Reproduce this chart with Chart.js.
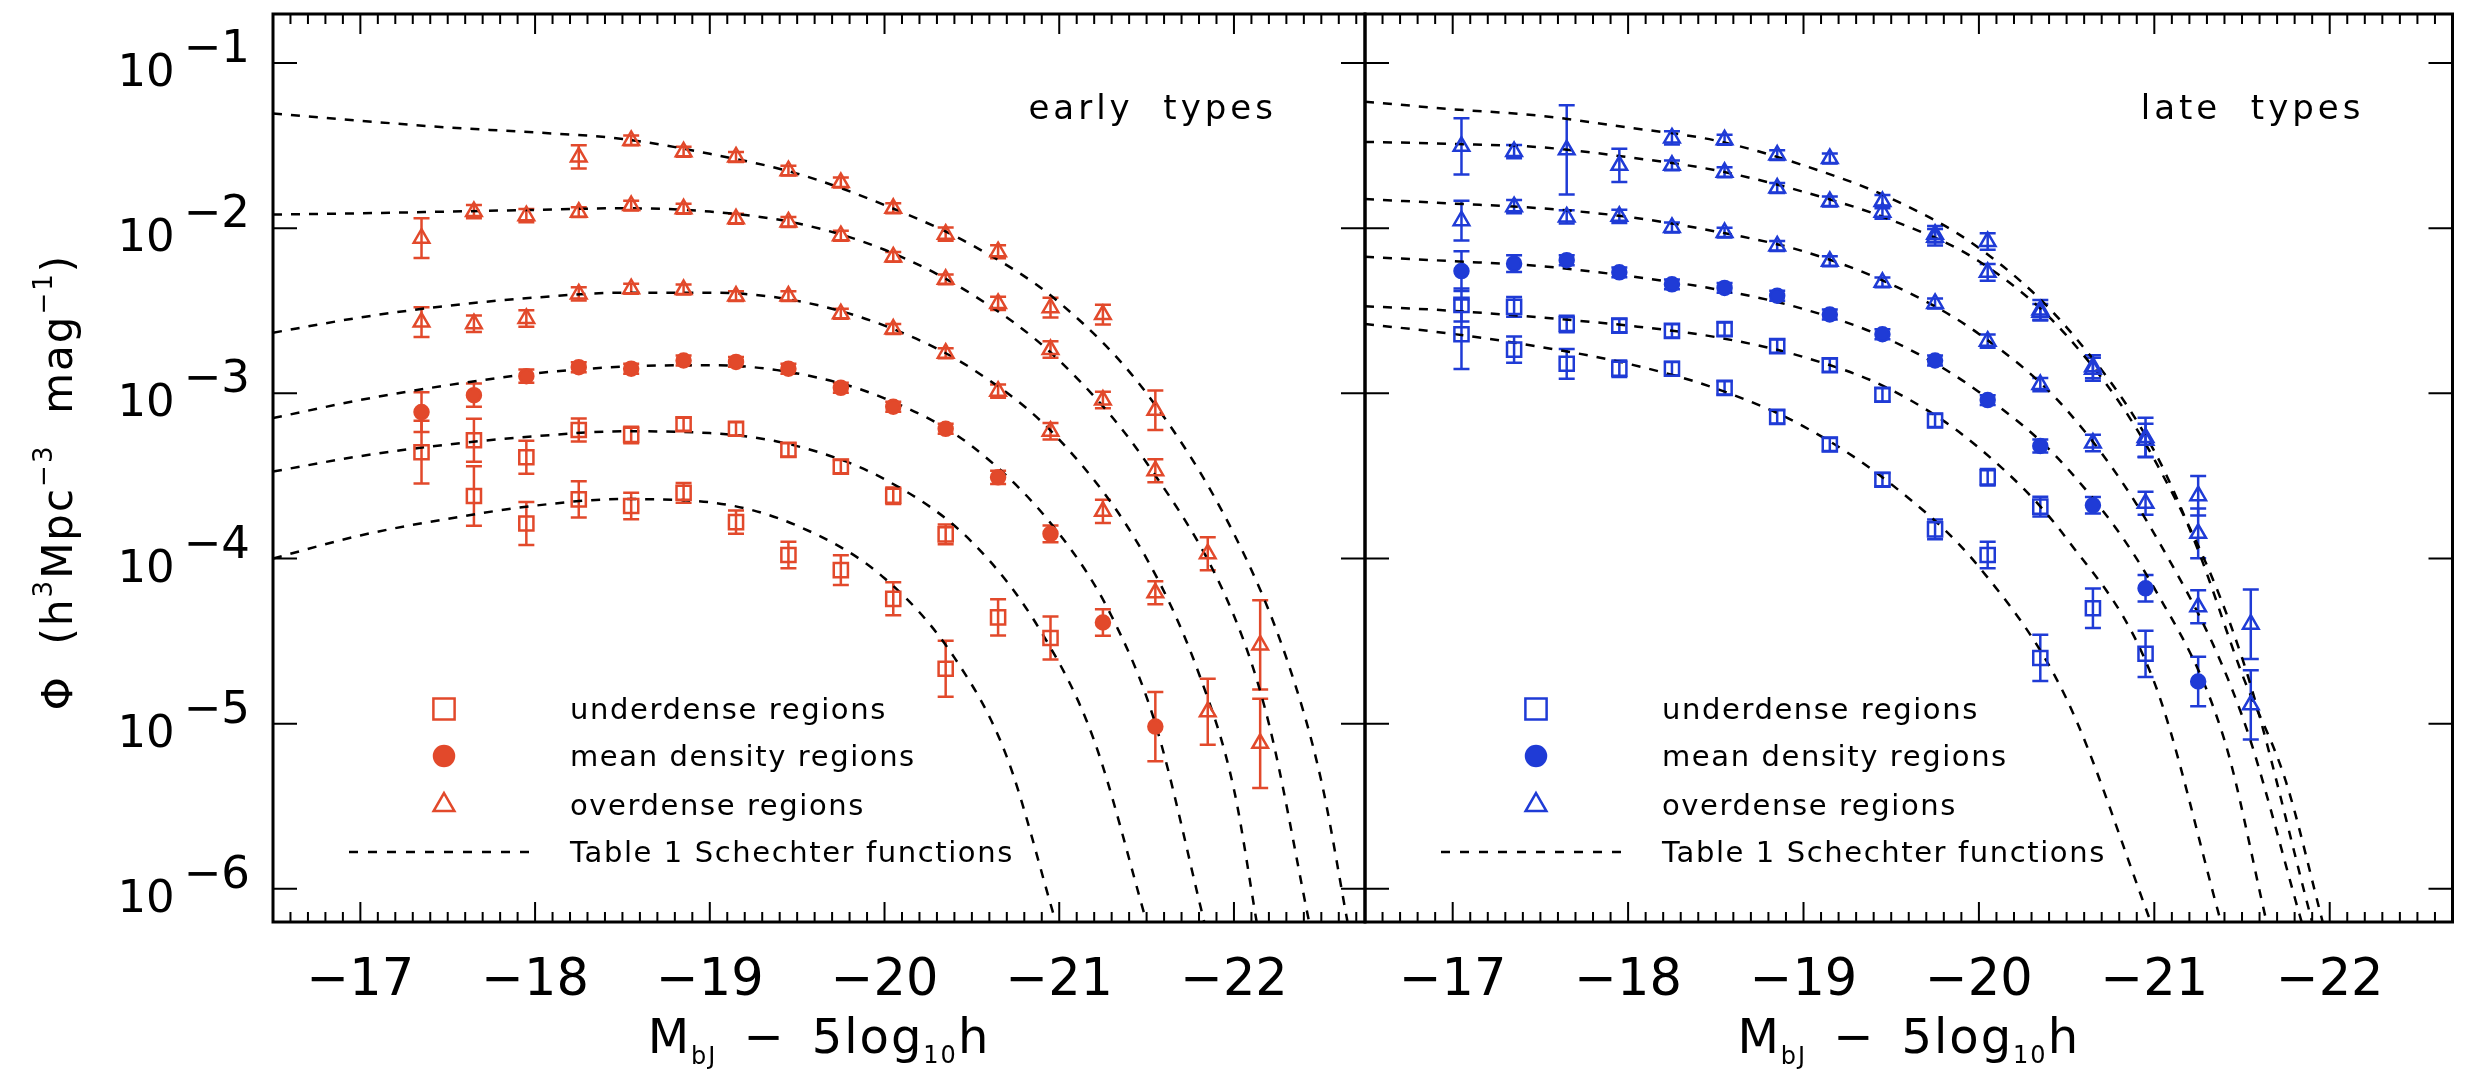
<!DOCTYPE html>
<html>
<head>
<meta charset="utf-8">
<script src="https://cdn.jsdelivr.net/npm/chart.js@4.4.1/dist/chart.umd.min.js"></script>
<style>
  html, body { margin: 0; padding: 0; background: #fff; }
  #wrap { position: relative; width: 2465px; height: 1072px; overflow: hidden; background: #fff; }
  canvas { position: absolute; top: 0; }
  #early { left: 0; }
  #late { left: 1300px; }
</style>
</head>
<body>
<div id="wrap">
  <canvas id="early" width="1430" height="1072"></canvas>
  <canvas id="late" width="1165" height="1072"></canvas>
</div>
<script>
// === Values ===

// magnitude bins of the measured points (M_bJ - 5log10 h)
const magBins = [-17.05, -17.35, -17.65, -17.95, -18.25, -18.55, -18.85, -19.15, -19.45,
                 -19.75, -20.05, -20.35, -20.65, -20.95, -21.25, -21.55, -21.85, -22.15];

// early types: Phi per bin (null = no point) and error bar half size in dex
const earlyOver1    = [null, null, null, null, 0.027, 0.034, 0.029, 0.027, 0.0223, 0.0189, 0.0132, 0.0092, 0.0072, 0.0033, 0.0030, 7.9e-4, null, 3.0e-5];
const earlyOver1Err = [null, null, null, null, 0.07, 0.03, 0.03, 0.03, 0.03, 0.03, 0.03, 0.04, 0.04, 0.06, 0.06, 0.12, null, 0.27];
const earlyOver2    = [null, 0.0087, 0.0126, 0.0119, 0.0125, 0.0137, 0.0131, 0.0114, 0.0109, 0.0090, 0.0067, 0.0049, 0.0035, 0.00184, 9.1e-4, 3.4e-4, 1.07e-4, 7.6e-6];
const earlyOver2Err = [null, 0.12, 0.04, 0.04, 0.03, 0.03, 0.03, 0.03, 0.03, 0.03, 0.03, 0.03, 0.04, 0.05, 0.05, 0.07, 0.1, 0.27];
const earlyOver3    = [null, 0.0027, 0.00264, 0.00284, 0.0040, 0.0043, 0.00425, 0.00388, 0.00388, 0.00303, 0.00245, 0.00175, 0.00103, 5.9e-4, 1.93e-4, 6.2e-5, 1.18e-5, null];
const earlyOver3Err = [null, 0.09, 0.05, 0.05, 0.04, 0.03, 0.03, 0.03, 0.03, 0.03, 0.03, 0.03, 0.04, 0.05, 0.07, 0.07, 0.2, null];
const earlyMean     = [null, 7.7e-4, 9.75e-4, 1.27e-3, 1.44e-3, 1.41e-3, 1.58e-3, 1.55e-3, 1.41e-3, 1.08e-3, 8.3e-4, 6.1e-4, 3.1e-4, 1.41e-4, 4.1e-5, 9.6e-6, null, null];
const earlyMeanErr  = [null, 0.12, 0.07, 0.04, 0.03, 0.03, 0.03, 0.03, 0.03, 0.03, 0.03, 0.03, 0.04, 0.05, 0.08, 0.21, null, null];
const earlyUnder1   = [null, 4.4e-4, 5.2e-4, 4.1e-4, 6.0e-4, 5.6e-4, 6.5e-4, 6.1e-4, 4.55e-4, 3.6e-4, 2.4e-4, 1.4e-4, 4.4e-5, 3.3e-5, null, null, null, null];
const earlyUnder1Err= [null, 0.19, 0.13, 0.1, 0.07, 0.05, 0.04, 0.04, 0.04, 0.04, 0.05, 0.06, 0.11, 0.13, null, null, null, null];
const earlyUnder2   = [null, null, 2.39e-4, 1.63e-4, 2.28e-4, 2.08e-4, 2.5e-4, 1.66e-4, 1.05e-4, 8.5e-5, 5.7e-5, 2.15e-5, null, null, null, null, null, null];
const earlyUnder2Err= [null, null, 0.18, 0.13, 0.11, 0.08, 0.06, 0.07, 0.08, 0.09, 0.1, 0.17, null, null, null, null, null, null];

// late types
const lateOver1     = [0.0313, null, 0.0298, null, 0.0352, 0.0343, 0.0277, 0.0264, 0.0145, 0.0092, 0.0083, 0.0032, 0.00145, 5.4e-4, 2.4e-4, 4.0e-5, null, null];
const lateOver1Err  = [0.17, null, 0.27, null, 0.04, 0.03, 0.03, 0.03, 0.04, 0.05, 0.05, 0.06, 0.07, 0.12, 0.12, 0.21, null, null];
const lateOver2     = [null, 0.0291, null, 0.024, 0.024, 0.0218, 0.0175, 0.0145, 0.0125, 0.0088, 0.0054, 0.0031, 0.0014, 5.2e-4, 1.42e-4, 1.3e-5, null, null];
const lateOver2Err  = [null, 0.04, null, 0.1, 0.03, 0.03, 0.03, 0.03, 0.04, 0.05, 0.05, 0.05, 0.07, 0.1, 0.15, 0.21, null, null];
const lateOver3     = [0.0111, 0.0135, 0.0117, 0.0118, 0.0101, 0.0094, 0.0078, 0.0063, 0.0047, 0.0035, 0.00207, 0.00113, 5.0e-4, 2.16e-4, 5.1e-5, null, null, null];
const lateOver3Err  = [0.12, 0.04, 0.04, 0.04, 0.03, 0.03, 0.03, 0.03, 0.03, 0.03, 0.04, 0.04, 0.05, 0.07, 0.1, null, null, null];
const lateMean      = [0.0055, 0.0061, 0.0064, 0.0054, 0.00457, 0.00435, 0.0039, 0.0030, 0.00228, 0.00158, 9.1e-4, 4.8e-4, 2.1e-4, 6.6e-5, 1.8e-5, null, null, null];
const lateMeanErr   = [0.12, 0.05, 0.03, 0.03, 0.03, 0.03, 0.03, 0.03, 0.03, 0.03, 0.03, 0.04, 0.05, 0.08, 0.15, null, null, null];
const lateUnder1    = [0.00343, 0.00334, 0.00263, 0.00257, 0.00239, 0.00245, 0.00193, 0.00148, 9.8e-4, 6.85e-4, 3.1e-4, 2.06e-4, 5.0e-5, 2.65e-5, null, null, null, null];
const lateUnder1Err = [0.1, 0.06, 0.05, 0.04, 0.04, 0.04, 0.04, 0.04, 0.04, 0.04, 0.05, 0.06, 0.12, 0.14, null, null, null, null];
const lateUnder2    = [0.00228, 0.00184, 0.00151, 0.00141, 0.00141, 0.00108, 7.2e-4, 4.9e-4, 3.0e-4, 1.5e-4, 1.05e-4, 2.5e-5, null, null, null, null, null, null];
const lateUnder2Err = [0.21, 0.08, 0.09, 0.05, 0.04, 0.04, 0.04, 0.04, 0.04, 0.06, 0.08, 0.14, null, null, null, null, null, null];

// dashed Table 1 Schechter curves, sampled off the figure
const fitE1Mag = [-16.5, -17, -17.5, -18, -18.5, -19, -19.5, -20, -20.5, -21, -21.5, -22, -22.3, -22.5, -22.65];
const fitE1Phi = [4.95e-2, 4.47e-2, 4.07e-2, 3.8e-2, 3.47e-2, 2.82e-2, 2.14e-2, 1.38e-2, 7.9e-3, 3.55e-3, 1.0e-3, 1.41e-4, 2.5e-5, 4.5e-6, 6.3e-7];
const fitE2Mag = [-16.5, -17, -17.5, -18, -18.5, -19, -19.5, -20, -20.5, -21, -21.5, -22, -22.2, -22.43];
const fitE2Phi = [1.21e-2, 1.23e-2, 1.26e-2, 1.29e-2, 1.32e-2, 1.26e-2, 1.07e-2, 7.4e-3, 3.98e-3, 1.58e-3, 3.8e-4, 4.5e-5, 1.0e-5, 6.3e-7];
const fitE3Mag = [-16.5, -17, -17.5, -18, -18.5, -19, -19.5, -20, -20.5, -21, -21.5, -21.8, -22, -22.13];
const fitE3Phi = [2.33e-3, 2.88e-3, 3.39e-3, 3.8e-3, 4.07e-3, 4.07e-3, 3.63e-3, 2.57e-3, 1.41e-3, 5.25e-4, 1.0e-4, 2.0e-5, 4.0e-6, 6.3e-7];
const fitE4Mag = [-16.5, -17, -17.5, -18, -18.5, -19, -19.5, -20, -20.5, -21, -21.3, -21.55, -21.83];
const fitE4Phi = [7.08e-4, 9.12e-4, 1.12e-3, 1.32e-3, 1.45e-3, 1.48e-3, 1.32e-3, 9.33e-4, 4.79e-4, 1.41e-4, 4.47e-5, 1.0e-5, 6.3e-7];
const fitE5Mag = [-16.5, -17, -17.5, -18, -18.5, -19, -19.5, -20, -20.5, -20.9, -21.2, -21.5];
const fitE5Phi = [3.36e-4, 4.17e-4, 4.9e-4, 5.5e-4, 5.89e-4, 5.75e-4, 4.79e-4, 3.02e-4, 1.26e-4, 3.55e-5, 7.9e-6, 6.3e-7];
const fitE6Mag = [-16.5, -17, -17.5, -18, -18.5, -19, -19.5, -20, -20.4, -20.7, -20.98];
const fitE6Phi = [1.0e-4, 1.38e-4, 1.74e-4, 2.09e-4, 2.29e-4, 2.19e-4, 1.58e-4, 7.6e-5, 2.51e-5, 6.3e-6, 6.3e-7];

const fitL1Mag = [-16.5, -17, -17.5, -18, -18.5, -19, -19.5, -20, -20.5, -21, -21.25, -21.5, -21.75, -21.96];
const fitL1Phi = [5.83e-2, 5.25e-2, 4.79e-2, 4.07e-2, 3.39e-2, 2.4e-2, 1.51e-2, 7.59e-3, 2.51e-3, 4.47e-4, 1.12e-4, 2.0e-5, 4.47e-6, 6.3e-7];
const fitL2Mag = [-16.5, -17, -17.5, -18, -18.5, -19, -19.5, -20, -20.5, -21, -21.5, -21.9];
const fitL2Phi = [3.33e-2, 3.24e-2, 3.09e-2, 2.69e-2, 2.24e-2, 1.66e-2, 1.12e-2, 6.31e-3, 2.24e-3, 3.98e-4, 2.51e-5, 6.3e-7];
const fitL3Mag = [-16.5, -17, -17.5, -18, -18.5, -19, -19.5, -20, -20.5, -21, -21.5, -21.84];
const fitL3Phi = [1.5e-2, 1.41e-2, 1.32e-2, 1.17e-2, 9.55e-3, 7.24e-3, 4.57e-3, 2.29e-3, 7.94e-4, 1.41e-4, 1.12e-5, 6.3e-7];
const fitL4Mag = [-16.5, -17, -17.5, -18, -18.5, -19, -19.5, -20, -20.5, -21, -21.4, -21.64];
const fitL4Phi = [6.71e-3, 6.31e-3, 5.89e-3, 5.13e-3, 4.27e-3, 3.24e-3, 2.09e-3, 1.02e-3, 3.55e-4, 6.61e-5, 7.94e-6, 6.3e-7];
const fitL5Mag = [-16.5, -17, -17.5, -18, -18.5, -19, -19.5, -20, -20.5, -21, -21.38];
const fitL5Phi = [3.37e-3, 3.16e-3, 2.88e-3, 2.57e-3, 2.19e-3, 1.66e-3, 1.05e-3, 4.68e-4, 1.32e-4, 1.78e-5, 6.3e-7];
const fitL6Mag = [-16.5, -17, -17.5, -18, -18.5, -19, -19.5, -20, -20.5, -20.98];
const fitL6Phi = [2.63e-3, 2.29e-3, 1.91e-3, 1.51e-3, 1.07e-3, 6.31e-4, 2.82e-4, 8.91e-5, 1.41e-5, 6.3e-7];

// axes
const xTickVals = [-17, -18, -19, -20, -21, -22];
const xTickText = ['−17', '−18', '−19', '−20', '−21', '−22'];
const yTickVals = [1e-1, 1e-2, 1e-3, 1e-4, 1e-5, 1e-6];
const yTickExp  = ['−1', '−2', '−3', '−4', '−5', '−6'];
const legendText = ['underdense regions', 'mean density regions', 'overdense regions', 'Table 1 Schechter functions'];

const RED = '#e2492b';
const BLUE = '#1f3bd6';
const FONT = '"DejaVu Sans", "Liberation Sans", sans-serif';

// === helpers ===
function markerSet(phis, errs, style, color) {
  const data = [];
  magBins.forEach((m, i) => {
    if (phis[i] !== null) data.push({ x: m, y: phis[i], err: errs[i] });
  });
  const radius = style === 'rect' ? 10 : (style === 'triangle' ? 9 : 7);
  return {
    data, showLine: false, pointStyle: style, pointRadius: radius, pointHoverRadius: radius,
    borderWidth: 2.5, borderColor: color,
    backgroundColor: style === 'circle' ? color : 'rgba(0,0,0,0)', order: 1
  };
}

function curveSet(mags, phis) {
  return {
    data: mags.map((m, i) => ({ x: m, y: phis[i] })),
    showLine: true, pointRadius: 0, pointHoverRadius: 0, borderColor: '#000', borderWidth: 2.5,
    borderDash: [9, 9], cubicInterpolationMode: 'monotone', fill: false, order: 2
  };
}

function drawRich(ctx, parts, x, y, align, spacing) {
  ctx.letterSpacing = (spacing || 0) + 'px';
  let total = 0;
  parts.forEach(p => {
    ctx.font = p.size + 'px ' + FONT;
    p.w = ctx.measureText(p.t).width;
    total += p.w + (p.gap || 0);
  });
  let cx = align === 'center' ? x - total / 2 : (align === 'right' ? x - total : x);
  ctx.textAlign = 'left';
  ctx.textBaseline = 'alphabetic';
  parts.forEach(p => {
    cx += p.gap || 0;
    ctx.font = p.size + 'px ' + FONT;
    ctx.fillText(p.t, cx, y + (p.dy || 0));
    cx += p.w;
  });
  ctx.letterSpacing = '0px';
}

function drawMarker(ctx, style, r, x, y, color, filled) {
  ctx.strokeStyle = color;
  ctx.fillStyle = filled ? color : 'rgba(0,0,0,0)';
  ctx.lineWidth = 2.5;
  if (Chart.helpers && Chart.helpers.drawPoint) {
    Chart.helpers.drawPoint(ctx, { pointStyle: style, radius: r, rotation: 0, borderWidth: 2.5 }, x, y);
    return;
  }
  ctx.beginPath();
  if (style === 'circle') ctx.arc(x, y, r, 0, Math.PI * 2);
  else if (style === 'rect') { const s = r * Math.SQRT1_2; ctx.rect(x - s, y - s, 2 * s, 2 * s); }
  else { ctx.moveTo(x, y - r); ctx.lineTo(x + 0.866 * r, y + r / 2); ctx.lineTo(x - 0.866 * r, y + r / 2); ctx.closePath(); }
  ctx.fill();
  ctx.stroke();
}

// === error bars under the markers ===
const errorBars = {
  id: 'errorBars',
  beforeDatasetsDraw(chart) {
    const { ctx, chartArea: a, scales: { x, y } } = chart;
    ctx.save();
    ctx.beginPath();
    ctx.rect(a.left, a.top, a.right - a.left, a.bottom - a.top);
    ctx.clip();
    ctx.lineWidth = 2.5;
    chart.data.datasets.forEach(ds => {
      if (ds.showLine) return;
      ctx.strokeStyle = ds.borderColor;
      ds.data.forEach(p => {
        if (!p.err) return;
        const px = x.getPixelForValue(p.x);
        const top = y.getPixelForValue(p.y * Math.pow(10, p.err));
        const bot = y.getPixelForValue(p.y / Math.pow(10, p.err));
        ctx.beginPath();
        ctx.moveTo(px, top); ctx.lineTo(px, bot);
        ctx.moveTo(px - 8, top); ctx.lineTo(px + 8, top);
        ctx.moveTo(px - 8, bot); ctx.lineTo(px + 8, bot);
        ctx.stroke();
      });
    });
    ctx.restore();
  }
};

// === frame, ticks, labels and legend ===
const frame = {
  id: 'frame',
  afterDraw(chart, args, o) {
    const { ctx, chartArea: a, scales: { x, y } } = chart;
    ctx.save();
    ctx.strokeStyle = '#000';
    ctx.fillStyle = '#000';

    // ticks
    ctx.lineWidth = 2;
    ctx.beginPath();
    const last = Math.round(-x.min * 10);
    for (let k = 166; k < last; k++) {
      const px = x.getPixelForValue(-k / 10);
      const len = k % 10 === 0 ? 20 : 10;
      ctx.moveTo(px, a.top); ctx.lineTo(px, a.top + len);
      ctx.moveTo(px, a.bottom); ctx.lineTo(px, a.bottom - len);
    }
    yTickVals.forEach(v => {
      const py = y.getPixelForValue(v);
      ctx.moveTo(a.left, py); ctx.lineTo(a.left + 24, py);
      ctx.moveTo(a.right, py); ctx.lineTo(a.right - 24, py);
    });
    ctx.stroke();
    ctx.lineWidth = 3;
    ctx.strokeRect(a.left, a.top, a.right - a.left, a.bottom - a.top);

    // x tick labels and title
    xTickVals.forEach((v, i) => {
      drawRich(ctx, [{ t: xTickText[i], size: 51 }], x.getPixelForValue(v), 995, 'center', 0);
    });
    const cxm = (a.left + a.right) / 2;
    drawRich(ctx, [
      { t: 'M', size: 48 },
      { t: 'bJ', size: 24, dy: 11 },
      { t: '−', size: 48, gap: 26 },
      { t: '5log', size: 48, gap: 26 },
      { t: '10', size: 24, dy: 10 },
      { t: 'h', size: 48 }
    ], cxm, 1053, 'center', 2);

    // y tick labels and title (left panel only)
    if (o.yLabels) {
      yTickVals.forEach((v, i) => {
        const py = y.getPixelForValue(v);
        drawRich(ctx, [
          { t: '10', size: 45, dy: 23 },
          { t: yTickExp[i], size: 45, dy: -1, gap: 9 }
        ], 250, py, 'right', 0);
      });
      ctx.save();
      ctx.translate(72, 482);
      ctx.rotate(-Math.PI / 2);
      drawRich(ctx, [
        { t: 'Φ  (h', size: 42 },
        { t: '3', size: 26, dy: -20 },
        { t: 'Mpc', size: 42 },
        { t: '−3', size: 26, dy: -20 },
        { t: '  mag', size: 42 },
        { t: '−1', size: 26, dy: -20 },
        { t: ')', size: 42 }
      ], 0, 0, 'center', 2);
      ctx.restore();
    }

    // panel label
    drawRich(ctx, [{ t: o.label, size: 34 }], a.right - 88, 119, 'right', 4);

    // legend
    const mx = a.left + 171;
    const tx = a.left + 297;
    const rows = [709, 756, 805, 852];
    drawMarker(ctx, 'rect', 15, mx, rows[0], o.color, false);
    drawMarker(ctx, 'circle', 10, mx, rows[1], o.color, true);
    drawMarker(ctx, 'triangle', 12, mx, rows[2], o.color, false);
    ctx.strokeStyle = '#000';
    ctx.lineWidth = 2.5;
    ctx.setLineDash([9, 10]);
    ctx.beginPath();
    ctx.moveTo(a.left + 76, rows[3]);
    ctx.lineTo(a.left + 266, rows[3]);
    ctx.stroke();
    ctx.setLineDash([]);
    ctx.fillStyle = '#000';
    legendText.forEach((t, i) => drawRich(ctx, [{ t, size: 29 }], tx, rows[i] + 10, 'left', 1.6));

    ctx.restore();
  }
};

function makeChart(id, datasets, padding, xMin, frameOpts) {
  return new Chart(document.getElementById(id), {
    type: 'line',
    data: { datasets },
    options: {
      responsive: false,
      animation: false,
      devicePixelRatio: 1,
      events: [],
      layout: { padding },
      plugins: { legend: { display: false }, tooltip: { enabled: false }, frame: frameOpts },
      scales: {
        x: { type: 'linear', bounds: 'data', reverse: true, min: xMin, max: -16.5, display: false },
        y: { type: 'logarithmic', bounds: 'data', min: 6.3e-7, max: 0.198, display: false }
      }
    },
    plugins: [errorBars, frame]
  });
}

// === Left panel: early types ===
makeChart('early', [
  markerSet(earlyOver1, earlyOver1Err, 'triangle', RED),
  markerSet(earlyOver2, earlyOver2Err, 'triangle', RED),
  markerSet(earlyOver3, earlyOver3Err, 'triangle', RED),
  markerSet(earlyMean, earlyMeanErr, 'circle', RED),
  markerSet(earlyUnder1, earlyUnder1Err, 'rect', RED),
  markerSet(earlyUnder2, earlyUnder2Err, 'rect', RED),
  curveSet(fitE1Mag, fitE1Phi),
  curveSet(fitE2Mag, fitE2Phi),
  curveSet(fitE3Mag, fitE3Phi),
  curveSet(fitE4Mag, fitE4Phi),
  curveSet(fitE5Mag, fitE5Phi),
  curveSet(fitE6Mag, fitE6Phi)
], { left: 273, top: 14, right: 65, bottom: 150 }, -22.75,
   { yLabels: true, label: 'early  types', color: RED });

// === Right panel: late types ===
makeChart('late', [
  markerSet(lateOver1, lateOver1Err, 'triangle', BLUE),
  markerSet(lateOver2, lateOver2Err, 'triangle', BLUE),
  markerSet(lateOver3, lateOver3Err, 'triangle', BLUE),
  markerSet(lateMean, lateMeanErr, 'circle', BLUE),
  markerSet(lateUnder1, lateUnder1Err, 'rect', BLUE),
  markerSet(lateUnder2, lateUnder2Err, 'rect', BLUE),
  curveSet(fitL1Mag, fitL1Phi),
  curveSet(fitL2Mag, fitL2Phi),
  curveSet(fitL3Mag, fitL3Phi),
  curveSet(fitL4Mag, fitL4Phi),
  curveSet(fitL5Mag, fitL5Phi),
  curveSet(fitL6Mag, fitL6Phi)
], { left: 65, top: 14, right: 10, bottom: 150 }, -22.7,
   { yLabels: false, label: 'late  types', color: BLUE });
</script>
</body>
</html>
